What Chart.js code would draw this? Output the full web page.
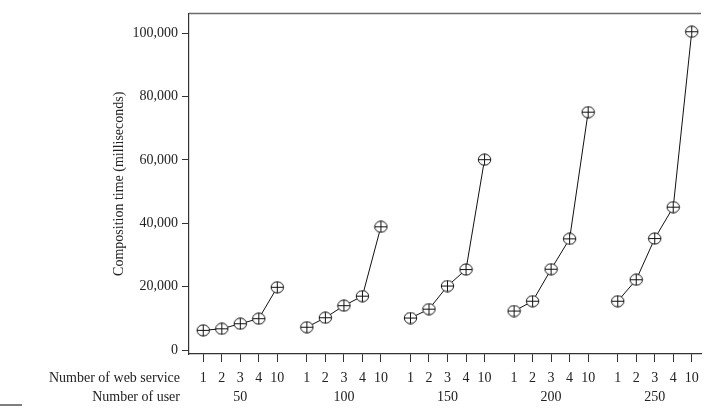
<!DOCTYPE html>
<html><head><meta charset="utf-8">
<script src="https://cdn.jsdelivr.net/npm/chart.js@4"></script>
<style>html,body{margin:0;padding:0;background:#fff}</style>
</head><body>
<canvas id="c" width="708" height="410"></canvas>
<script>
const users = ['50', '100', '150', '200', '250'];
const services = ['1', '2', '3', '4', '10'];
const time50  = [6200, 6700, 8300, 9900, 19800];
const time100 = [7200, 10200, 14000, 17000, 38900];
const time150 = [10100, 12900, 20200, 25400, 60100];
const time200 = [12300, 15400, 25500, 35100, 75100];
const time250 = [15400, 22200, 35200, 45100, 100500];
const yTickValues = [0, 20000, 40000, 60000, 80000, 100000];
const rowTitles = ['Number of web service', 'Number of user'];
const yTitle = 'Composition time (milliseconds)';

const seriesList = [time50, time100, time150, time200, time250];
const GROUP_STEP = 5.6;
const FONT = "'Liberation Serif', 'Times New Roman', serif";

// marker: circle with a plus sign
const marker = document.createElement('canvas');
marker.width = 15; marker.height = 13;
(function () {
  const m = marker.getContext('2d');
  m.fillStyle = '#fff';
  m.strokeStyle = '#111';
  m.lineWidth = 1;
  m.beginPath();
  m.ellipse(7.5, 6.5, 6.2, 5.6, 0, 0, Math.PI * 2);
  m.fill(); m.stroke();
  m.beginPath();
  m.moveTo(7.5, 0.9); m.lineTo(7.5, 12.1);
  m.moveTo(1.3, 6.5); m.lineTo(13.7, 6.5);
  m.stroke();
})();

const tickPositions = [];
const tickLabels = [];
users.forEach((u, g) => {
  services.forEach((s, i) => {
    tickPositions.push(g * GROUP_STEP + i);
    tickLabels.push(i === 2 ? [s, u] : [s, '']);
  });
});

const datasets = seriesList.map((vals, g) => ({
  data: vals.map((v, i) => ({ x: g * GROUP_STEP + i, y: v })),
  borderColor: '#111',
  borderWidth: 1,
  pointStyle: marker,
  pointRadius: 6,
  pointHoverRadius: 6,
  showLine: true,
  fill: false,
  tension: 0
}));

const framePlugin = {
  id: 'frame',
  afterDraw(chart) {
    const { ctx, chartArea } = chart;
    ctx.save();
    ctx.strokeStyle = '#6a6a6a';
    ctx.lineWidth = 1.5;
    ctx.beginPath();
    ctx.moveTo(chartArea.left, chartArea.top);
    ctx.lineTo(chartArea.right, chartArea.top);
    ctx.stroke();
    ctx.strokeStyle = '#555';
    ctx.lineWidth = 1.5;
    ctx.beginPath();
    ctx.moveTo(0, 405); ctx.lineTo(22, 405);
    ctx.stroke();
    ctx.fillStyle = '#222';
    ctx.font = '14px ' + FONT;
    ctx.textAlign = 'right';
    ctx.textBaseline = 'middle';
    ctx.fillText(rowTitles[0], 180, 378);
    ctx.fillText(rowTitles[1], 180, 397);
    ctx.restore();
  }
};

new Chart(document.getElementById('c'), {
  type: 'scatter',
  data: { datasets },
  options: {
    responsive: false,
    animation: false,
    events: [],
    layout: { padding: { top: 13.5, right: 0, bottom: 0, left: 0 } },
    plugins: { legend: { display: false }, tooltip: { enabled: false } },
    scales: {
      x: {
        type: 'linear',
        min: -0.77,
        max: 26.9,
        afterBuildTicks(scale) { scale.ticks = tickPositions.map(v => ({ value: v })); },
        afterFit(scale) { scale.height = 56; },
        ticks: {
          autoSkip: false,
          maxRotation: 0,
          padding: 6.5,
          color: '#222',
          font: { family: FONT, size: 14, lineHeight: 1.357 },
          callback(value, index) { return tickLabels[index]; }
        },
        grid: { drawOnChartArea: false, drawTicks: true, tickLength: 8, color: '#333', lineWidth: 1 },
        border: { display: true, color: '#333', width: 1.2 }
      },
      y: {
        min: -1263,
        max: 106250,
        afterBuildTicks(scale) { scale.ticks = yTickValues.map(v => ({ value: v })); },
        afterFit(scale) { scale.width = 189; },
        ticks: {
          padding: 4,
          color: '#222',
          font: { family: FONT, size: 14 },
          callback(value) { return value.toLocaleString('en-US'); }
        },
        grid: { drawOnChartArea: false, drawTicks: true, tickLength: 7, color: '#333', lineWidth: 1 },
        border: { display: true, color: '#333', width: 1.2 },
        title: {
          display: true,
          text: yTitle,
          color: '#222',
          font: { family: FONT, size: 14 },
          padding: { top: 111, bottom: 0 }
        }
      }
    }
  },
  plugins: [framePlugin]
});
</script>
</body></html>
